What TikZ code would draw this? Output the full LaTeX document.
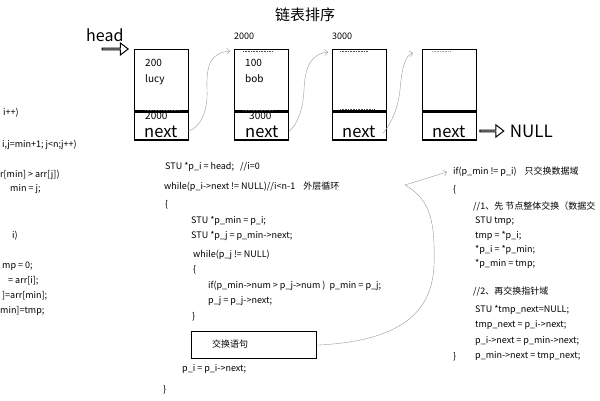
\documentclass[tikz,border=0pt]{standalone}
\usepackage{fontspec}
\setmainfont{Noto Sans CJK SC}
\usetikzlibrary{arrows.meta,positioning,shapes.arrows}
\begin{document}
\begin{tikzpicture}[x=1pt,y=-1pt]
\tikzstyle{every node}+=[inner sep=0pt]
\tikzstyle{code}=[anchor=west,font=\fontsize{9}{11}\selectfont,text height=7pt,text depth=2pt]
\tikzstyle{cell}=[draw=black,line width=1.3pt,minimum width=54pt,anchor=north west]
\tikzstyle{small}=[anchor=base west,font=\fontsize{10}{12}\selectfont]
\tikzstyle{nxt}=[anchor=base west,font=\fontsize{16.5}{19}\selectfont,text height=9pt,text depth=0pt]
\tikzstyle{link}=[gray!80,line width=0.4pt,-{Straight Barb[length=3pt,width=6pt]}]
\tikzstyle{hollow}=[single arrow,draw=black,line width=1pt,minimum width=12pt,single arrow head extend=3pt,single arrow tip angle=75]
\tikzstyle{scrap}=[densely dotted,line width=0.6pt,black!70]
\useasboundingbox (0,0) rectangle (600,400);
\fill[white] (0,0) rectangle (600,400);
% title and list
\draw (305,15) node[font=\fontsize{15}{18}\selectfont] (title) {链表排序};
\draw (86,41.5) node[anchor=base west,font=\fontsize{16}{19}\selectfont] (head) {head};
\node[cell,minimum height=61pt] (d1) at (134,49) {};
\node[cell,minimum height=28pt,below=0pt of d1] (n1) {};
\node[cell,minimum height=61pt] (d2) at (234,49) {};
\node[cell,minimum height=28pt,below=0pt of d2] (n2) {};
\node[cell,minimum height=61pt] (d3) at (332,49) {};
\node[cell,minimum height=28pt,below=0pt of d3] (n3) {};
\node[cell,minimum height=61pt] (d4) at (422,49) {};
\node[cell,minimum height=28pt,below=0pt of d4] (n4) {};
\node[hollow,minimum height=26pt,left=5pt of d1.north west] (harrow) {};
\node[hollow,minimum height=24pt,right=2pt of n4.east,yshift=-5pt] (narrow) {};
\node[anchor=west,font=\fontsize{17}{20}\selectfont,right=5pt of narrow] (null) {NULL};
\draw (234,39) node[small,font=\fontsize{9}{11}\selectfont] (a2) {2000};
\draw (332,39) node[small,font=\fontsize{9}{11}\selectfont] (a3) {3000};
\draw (145,66.5) node[small] (num1) {200};
\draw (145,82) node[small] (name1) {lucy};
\draw (145,119.5) node[small,text depth=0pt] (p1) {2000};
\draw (144,137) node[nxt] (x1) {next};
\draw (245,66.5) node[small] (num2) {100};
\draw (245,82.5) node[small] (name2) {bob};
\draw (249,119.5) node[small,text depth=0pt] (p2) {3000};
\draw (245,137) node[nxt] (x2) {next};
\draw (342,137) node[nxt] (x3) {next};
\draw (432,137) node[nxt] (x4) {next};
% left-over dots of old text
\draw[scrap] ([xshift=9pt,yshift=-2pt]d2.north west) -- ++(29,0);
\draw[scrap] ([xshift=8pt,yshift=-2pt]d3.north west) -- ++(28,0);
\draw[scrap,black!35] ([xshift=10pt,yshift=-2pt]d4.north west) -- ++(18,0);
\draw[scrap] ([xshift=11pt,yshift=1.5pt]n1.north west) -- ++(35,0);
\draw[scrap] ([xshift=9pt,yshift=1.5pt]n2.north west) -- ++(30,0);
\draw[scrap] ([xshift=8pt,yshift=2pt]n3.north west) -- ++(35,0);
% next pointers
\draw[link] ([xshift=-1pt,yshift=-5pt]n1.east) .. controls (200,128) and (208,112) .. (207,90) .. controls (206,62) and (212,53) .. ([xshift=-4pt,yshift=-2pt]d2.north west);
\draw[link] ([yshift=-5pt]n2.east) .. controls (296,126) and (303,112) .. (304,90) .. controls (305,65) and (312,54) .. ([xshift=-4pt,yshift=-3pt]d3.north west);
\draw[link] ([xshift=-4pt,yshift=-7pt]n3.east) .. controls (392,122) and (398,108) .. (400,90) .. controls (402,65) and (406,55) .. ([xshift=-9pt,yshift=-4pt]d4.north west);
% left column (cut off)
\draw (3,113) node[code] (l1) {i++)};
\draw (2,145) node[code] (l2) {i,j=min+1; j<n;j++)};
\draw (0,175) node[code] (l3) {r[min] > arr[j])};
\draw (10,189) node[code] (l4) {min = j;};
\draw (12,236) node[code] (l5) {i)};
\draw (2,266) node[code] (l6) {mp = 0;};
\draw (8,281) node[code] (l7) {= arr[i];};
\draw (2,296) node[code] (l8) {]=arr[min];};
\draw (0,311) node[code] (l9) {min]=tmp;};
% middle column
\draw (165,167) node[code] (m1) {STU *p\_i = head;\ \ \ //i=0};
\draw (164,187) node[code] (m2) {while(p\_i->next != NULL)//i<n-1\ \ \ \ 外层循环};
\draw (165,205) node[code] (m3) {\{};
\draw (191,221) node[code] (m4) {STU *p\_min = p\_i;};
\draw (191,236) node[code] (m5) {STU *p\_j = p\_min->next;};
\draw (193,255) node[code] (m6) {while(p\_j != NULL)};
\draw (193,270) node[code] (m7) {\{};
\draw (208,286) node[code] (m8) {if(p\_min->num > p\_j->num )\ \ p\_min = p\_j;};
\draw (208,301) node[code] (m9) {p\_j = p\_j->next;};
\draw (192,317) node[code] (m10) {\}};
\node[draw,line width=1.2pt,minimum width=125pt,minimum height=27pt,anchor=north west] (swap) at (191,331) {};
\node[code,right=21pt of swap.west] (swaptxt) {交换语句};
\draw (182,369) node[code] (m11) {p\_i = p\_i->next;};
\draw (163,390) node[code] (m12) {\}};
% right column
\draw (453,172) node[code] (r1) {if(p\_min != p\_i)\ \ \ \ 只交换数据域};
\draw (453,190) node[code] (r2) {\{};
\draw (473,207) node[code] (r3) {//1、先 节点整体交换（数据交};
\draw (475,221) node[code] (r4) {STU tmp;};
\draw (475,236) node[code] (r5) {tmp = *p\_i;};
\draw (475,250) node[code] (r6) {*p\_i = *p\_min;};
\draw (475,264) node[code] (r7) {*p\_min = tmp;};
\draw (473,292) node[code] (r8) {//2、再交换指针域};
\draw (475,310) node[code] (r9) {STU *tmp\_next=NULL;};
\draw (475,325) node[code] (r10) {tmp\_next = p\_i->next;};
\draw (475,341) node[code] (r11) {p\_i->next = p\_min->next;};
\draw (475,356) node[code] (r12) {p\_min->next = tmp\_next;};
\draw (453,357) node[code] (r13) {\}};
% swap statement -> if block
\draw[link] (swap.east) .. controls (380,342) and (432,325) .. (434,265) .. controls (435,225) and (432,200) .. (405,185) -- ([xshift=-6pt]r1.west);
\end{tikzpicture}
\end{document}
